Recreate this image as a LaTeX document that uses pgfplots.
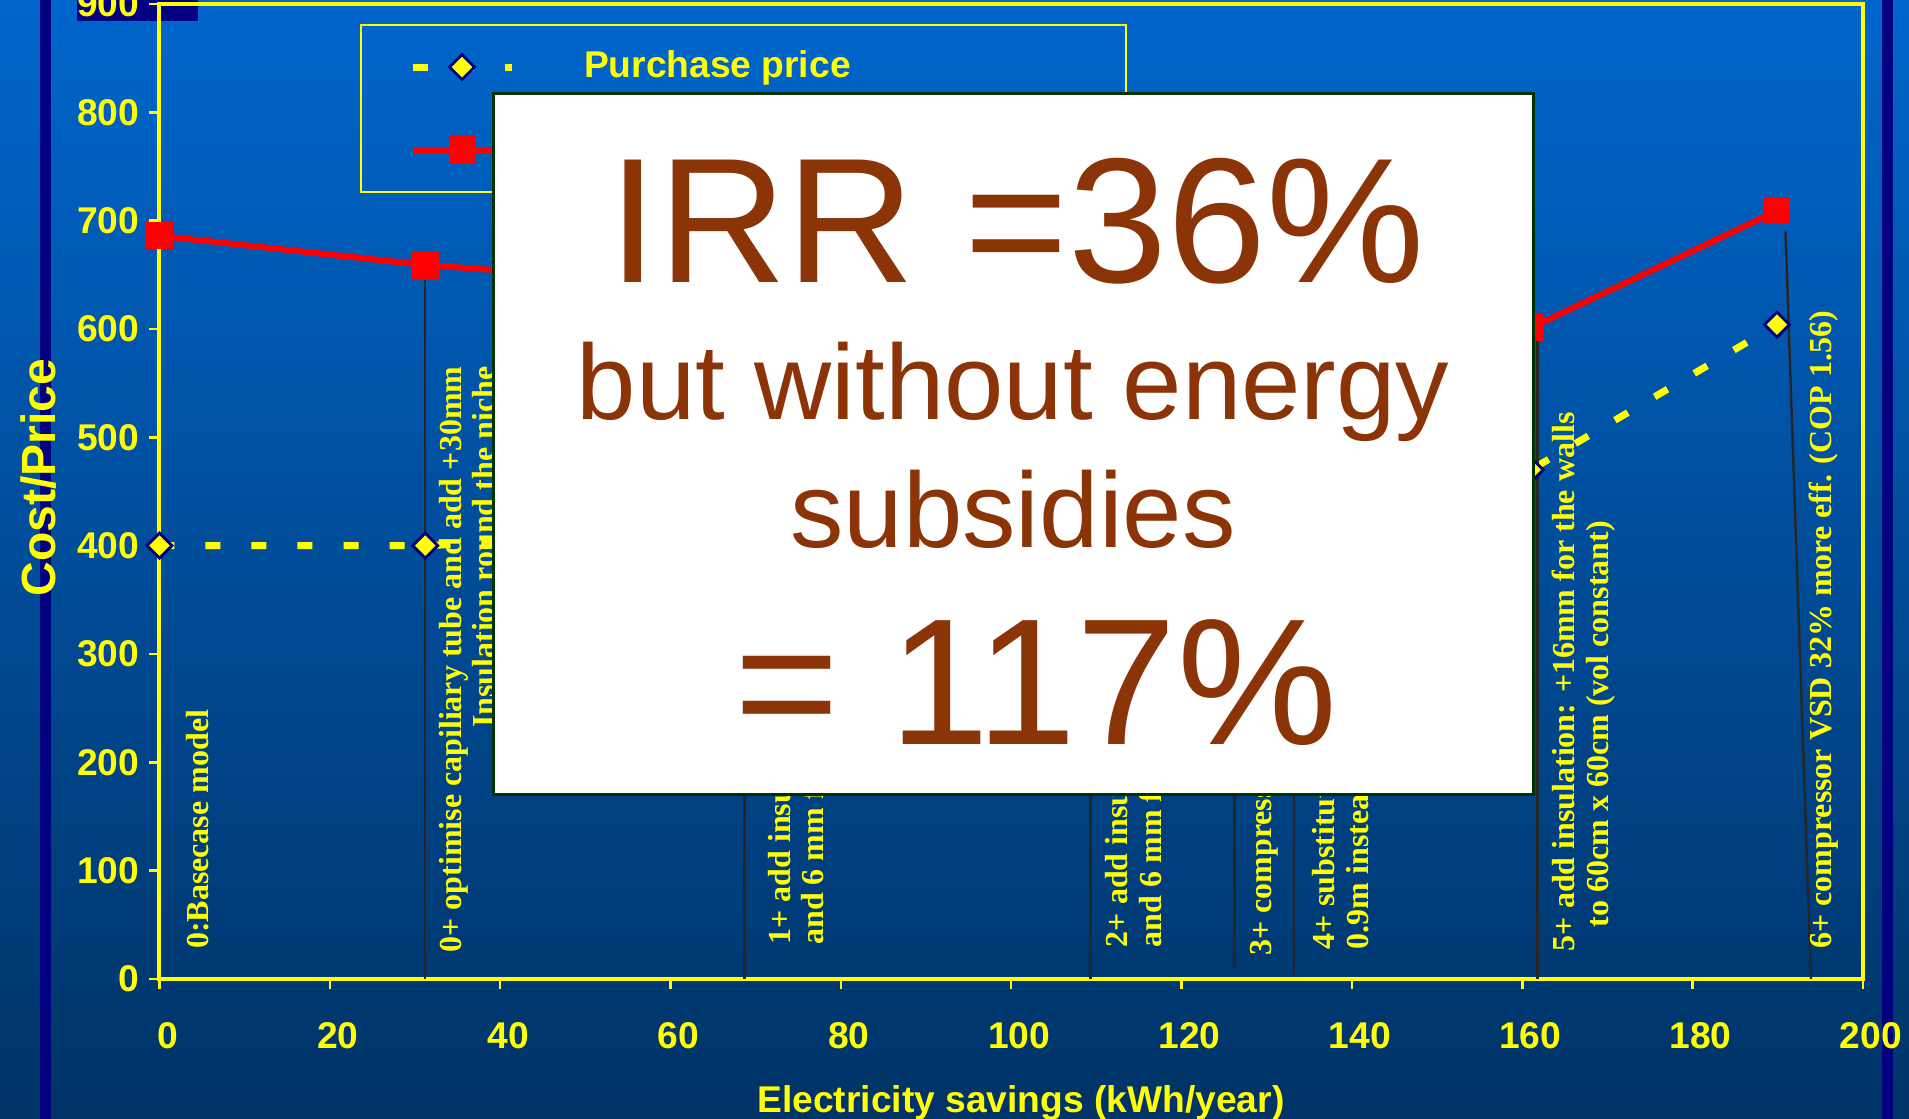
\documentclass[border=0pt]{standalone}
\usepackage{pgfplots}
\pgfplotsset{compat=1.18}
\usepackage{fontspec}
\setmainfont{Liberation Sans}
\newfontfamily\lserif{Liberation Serif}
\definecolor{ylw}{RGB}{255,255,0}
\definecolor{nvy}{RGB}{0,0,128}
\definecolor{bgtop}{RGB}{0,102,204}
\definecolor{bgbot}{RGB}{0,51,102}
\definecolor{brn}{RGB}{139,52,8}
\definecolor{boxline}{RGB}{0,51,0}
\tikzset{lab/.style={rotate=90, anchor=north west, inner sep=0pt, text=ylw,
    font=\lserif\bfseries\fontsize{8}{8.4}\selectfont}}

\begin{document}
\begin{tikzpicture}
\useasboundingbox (0,0) rectangle (477.25pt,279.75pt);
\shade[top color=bgtop, bottom color=bgbot] (0,0) rectangle (477.25pt,279.75pt);
\fill[nvy] (10pt,0) rectangle (12.75pt,279.75pt);
\fill[nvy] (470.5pt,0) rectangle (473.25pt,279.75pt);
\fill[nvy] (19.25pt,274.5pt) rectangle (49.5pt,279.75pt);

\begin{axis}[
  scale only axis,
  width=425.875pt, height=243.75pt,
  at={(39.875pt,35pt)}, anchor=south west,
  xmin=0, xmax=200, ymin=0, ymax=900,
  xtick={0,20,...,200}, ytick={0,100,...,900},
  axis line style={ylw, line width=1pt},
  tick style={ylw, line width=0.6pt},
  tick align=outside, major tick length=2.5pt,
  tick pos=left,
  clip=false,
  /pgf/number format/assume math mode=true,
  ticklabel style={font=\fontsize{9.3}{11}\selectfont\bfseries, text=ylw},
  xticklabel style={anchor=base, inner sep=0pt, yshift=-15pt, xshift=2pt},
  yticklabel style={anchor=east, inner sep=0pt, xshift=-2.4pt},
  xlabel={Electricity savings (kWh/year)},
  ylabel={Cost/Price},
  xlabel style={at={(axis description cs:0.5057,-0.1374)}, anchor=base,
    font=\fontsize{9.3}{11}\selectfont\bfseries, text=ylw},
  ylabel style={at={(axis description cs:-0.0707,0.514)}, anchor=center,
    font=\fontsize{12}{14}\selectfont\bfseries, text=ylw},
  legend style={at={(axis description cs:0.1177,0.9795)}, anchor=north west,
    draw=ylw, line width=0.5pt, fill=none, text=ylw,
    font=\fontsize{9.3}{11}\selectfont\bfseries,
    inner xsep=12pt, inner ysep=4.4pt, row sep=8.4pt, column sep=15.25pt,
    cells={anchor=west}},
  legend cell align=left,
  legend image code/.code={\draw[#1,mark repeat=2,mark phase=2]
    plot coordinates {(0pt,0pt) (12.375pt,0pt) (24.75pt,0pt)};},
]
% purchase price
\addplot[ylw, line width=1.75pt, dash pattern=on 3.75pt off 7.75pt,
  mark=square*, mark size=2.2pt,
  mark options={solid, rotate=45, fill=ylw, draw=nvy, line width=0.7pt}]
  coordinates {(0,400) (31.2,400) (68.7,412) (109.3,430) (126.2,440)
               (133.2,446) (161.0,470) (189.9,604)};
\addlegendentry{\makebox[121.5pt][l]{Purchase price}}
% cost
\addplot[red, line width=1.5pt, mark=square*, mark size=3.25pt,
  mark options={fill=red, draw=red, line width=0pt}]
  coordinates {(0,686) (31.2,659) (68.7,638) (109.3,622) (126.2,615)
               (133.2,611) (161.0,601) (189.9,709)};
\addlegendentry{\makebox[121.5pt][l]{Life cycle cost}}

% drop lines
\addplot[black!85, line width=0.6pt, forget plot] coordinates {(31.2,645) (31.2,0)};
\addplot[black!85, line width=0.6pt, forget plot] coordinates {(68.7,625) (68.7,0)};
\addplot[black!85, line width=0.6pt, forget plot] coordinates {(109.3,610) (109.3,0)};
\addplot[black!85, line width=0.6pt, forget plot] coordinates {(126.2,603) (126.2,10)};
\addplot[black!85, line width=0.6pt, forget plot] coordinates {(133.2,600) (133.2,5)};
\addplot[black!85, line width=0.6pt, forget plot] coordinates {(161.8,590) (161.8,0)};
\addplot[black!85, line width=0.6pt, forget plot] coordinates {(190.9,690) (193.9,0)};

% step labels
\node[lab] at (axis cs:3.0,27) {0:Basecase model};
\node[lab, align=right] at (axis cs:32.7,23.7)
  {0+ optimise capiliary tube and add +30mm\\Insulation round the niche};
\node[lab, align=left] at (axis cs:71.3,31)
  {1+ add insulation: +6mm for the door\\and 6 mm for the walls};
\node[lab, align=left] at (axis cs:110.9,28.6)
  {2+ add insulation: +10mm for the door\\and 6 mm for the walls};
\node[lab] at (axis cs:127.8,20.6) {3+ compressor 10\% more efficient};
\node[lab, align=left] at (axis cs:135.3,26.8)
  {4+ substitute condenser\\0.9m instead of 0.6m};
\node[lab, align=left] at (axis cs:163.4,24.9)
  {5+ add insulation: +16mm for the walls\\\hspace*{6pt}to 60cm x 60cm (vol constant)};
\node[lab] at (axis cs:193.6,27.2) {6+ compressor VSD 32\% more eff. (COP 1.56)};
\end{axis}

\draw[boxline, fill=white, line width=0.75pt] (123.25pt,81pt) rectangle (383.25pt,256.25pt);
\node[anchor=base, inner sep=0pt, text=brn, font=\fontsize{44.5}{50}\selectfont]
  at (254.25pt,209.1pt) {IRR =36\%};
\node[anchor=base, inner sep=0pt, text=brn, font=\fontsize{26.7}{30}\selectfont]
  at (253.25pt,174.75pt) {but without energy};
\node[anchor=base, inner sep=0pt, text=brn, font=\fontsize{26.7}{30}\selectfont]
  at (253.25pt,142.75pt) {subsidies};
\node[anchor=base, inner sep=0pt, text=brn, font=\fontsize{45}{50}\selectfont]
  at (259pt,93.5pt) {= 117\%};
\end{tikzpicture}
\end{document}
